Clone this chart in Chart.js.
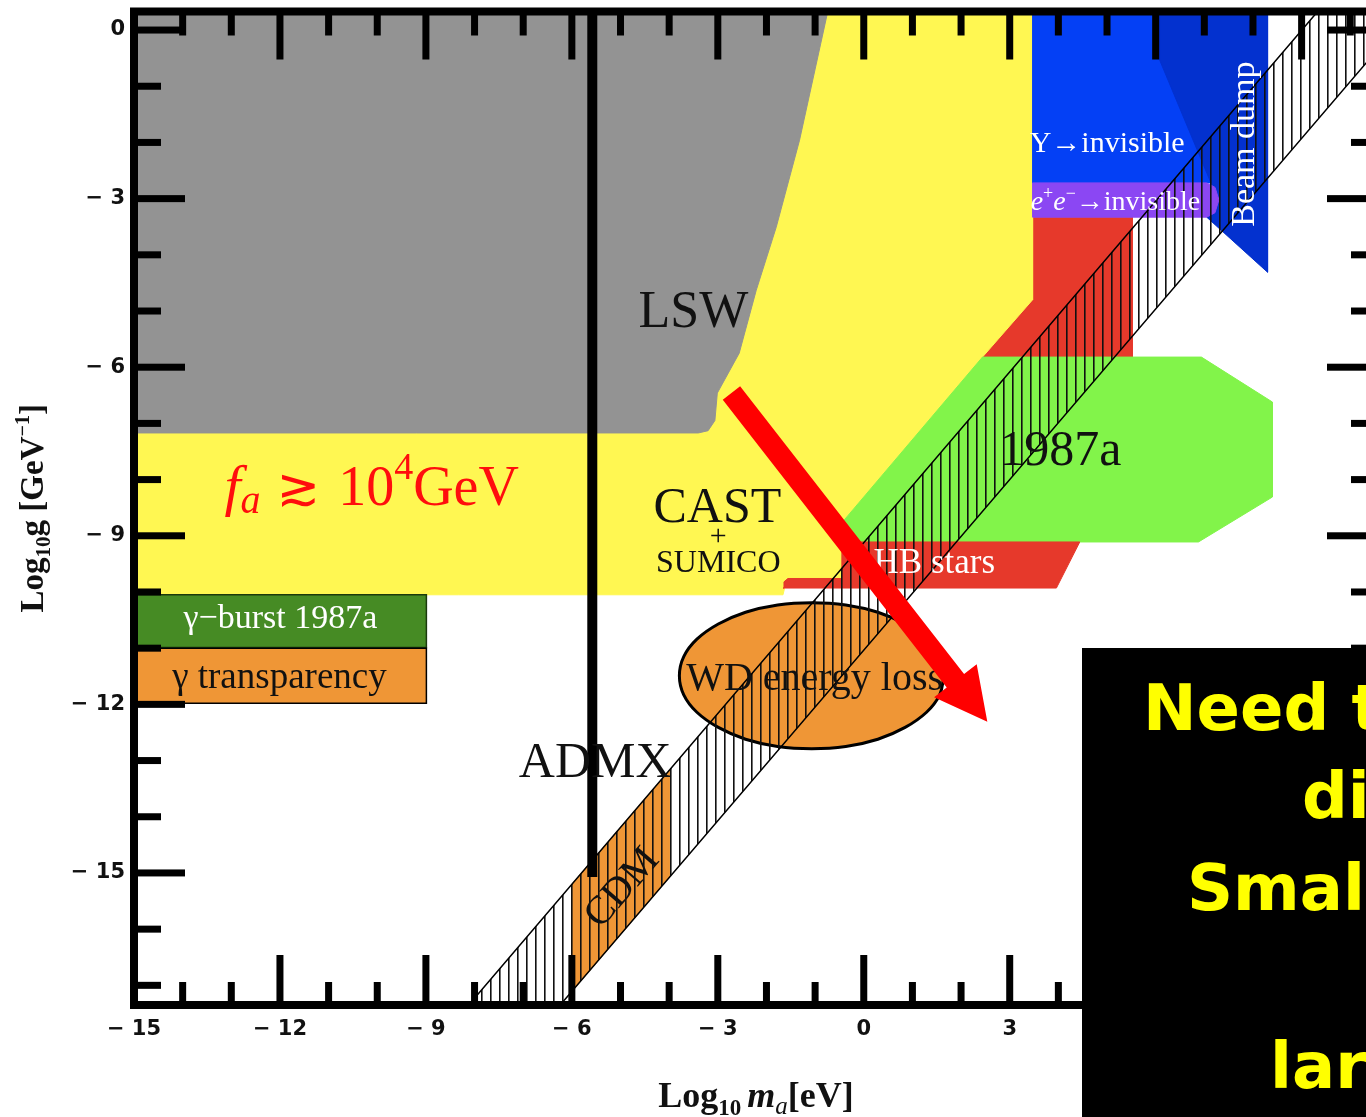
<!DOCTYPE html>
<html><head><meta charset="utf-8">
<script src="https://cdn.jsdelivr.net/npm/chart.js@4.4.1/dist/chart.umd.min.js"></script>
<style>
html,body{margin:0;padding:0;overflow:hidden;background:#fff;width:1366px;height:1117px;}
#wrap{position:absolute;left:0;top:0;width:1420px;height:1117px;}
#box{position:absolute;left:1082px;top:648px;width:400px;height:520px;background:#000;}
.msg{position:absolute;color:#ffff00;font:bold 64px "DejaVu Sans",sans-serif;line-height:64px;white-space:nowrap;}
</style></head><body>
<div id="wrap"><canvas id="c" width="1420" height="1117"></canvas></div>
<div id="box"></div>
<div class="msg" style="left:1143px;top:676px">Need to</div>
<div class="msg" style="left:1302px;top:764px">different</div>
<div class="msg" style="left:1187px;top:856px">Smaller</div>
<div class="msg" style="left:1270px;top:1034px">larger</div>
<script>
// ---------- axes ----------
const xTickValues = [-15, -12, -9, -6, -3, 0, 3, 6, 9];
const yTickValues = [0, -3, -6, -9, -12, -15];
const xLimits = [-15, 10.57];
const yLimits = [-17.35, 0.33];

// ---------- excluded regions: [log10 m_a, log10 g] ----------
const upperRedRegion = [[2.4,-3.33],[5.52,-3.33],[5.52,-5.82],[2.4,-5.82],[2.4,-3.33]];
const castRegion = [[-15,0.33],[3.47,0.33],[3.47,-4.80],[2.44,-5.82],[-0.54,-8.86],[-0.45,-9.11],[-0.45,-9.76],[-1.58,-9.76],[-1.66,-10.05],[-15,-10.05],[-15,0.33]];
const lswRegion = [[-15,0.33],[-0.74,0.33],[-1.32,-1.96],[-1.80,-3.51],[-2.21,-4.63],[-2.56,-5.75],[-3.01,-6.46],[-3.06,-6.95],[-3.20,-7.13],[-3.40,-7.17],[-15,-7.17],[-15,0.33]];
const upsilonRegion = [[3.47,0.33],[6.1,0.33],[6.1,-0.53],[7.17,-2.72],[3.47,-2.72],[3.47,0.33]];
const beamDumpRegion = [[6.08,0.33],[8.30,0.33],[8.30,-4.31],[7.05,-3.33],[7.17,-2.79],[6.08,-0.53],[6.08,0.33]];
const eeRegion = [[3.47,-2.72],[7.05,-2.72],[7.22,-2.80],[7.30,-3.02],[7.22,-3.25],[7.05,-3.33],[3.47,-3.33],[3.47,-2.72]];
const sn1987aRegion = [[-0.54,-9.11],[-0.54,-8.86],[2.44,-5.82],[6.94,-5.82],[8.40,-6.62],[8.40,-8.31],[6.88,-9.11],[-0.54,-9.11]];
const hbRegion = [[-1.66,-9.93],[-1.64,-9.82],[-1.56,-9.76],[-0.45,-9.76],[-0.45,-9.11],[4.44,-9.11],[3.96,-9.93],[-1.66,-9.93]];
const burstRegion = [[-15,-10.05],[-8.99,-10.05],[-8.99,-10.99],[-15,-10.99],[-15,-10.05]];
const transparencyRegion = [[-15,-11.0],[-8.99,-11.0],[-8.99,-11.98],[-15,-11.98],[-15,-11.0]];
const wdRegion = [[1.65,-11.49],[1.56,-11.15],[1.29,-10.84],[0.85,-10.57],[0.29,-10.36],[-0.37,-10.23],[-1.07,-10.19],[-1.77,-10.23],[-2.43,-10.36],[-2.99,-10.57],[-3.43,-10.84],[-3.70,-11.15],[-3.79,-11.49],[-3.70,-11.83],[-3.43,-12.14],[-2.99,-12.41],[-2.43,-12.62],[-1.77,-12.75],[-1.07,-12.79],[-0.37,-12.75],[0.29,-12.62],[0.85,-12.41],[1.29,-12.14],[1.56,-11.83],[1.65,-11.49]];
const cdmRegion = [[-6,-17.11],[-6,-15.20],[-4,-13.18],[-4,-15.08],[-6,-17.11]];
const axionBand = [[-8.12,-17.35],[9.33,0.33],[11.23,0.33],[-6.24,-17.35],[-8.12,-17.35]];
const admxLine = [[-5.58,0.33],[-5.58,-15.07]];
const arrowPath = [[-2.72,-6.46],[2.54,-12.31]];

// ---------- hatch pattern ----------
const pc = document.createElement('canvas'); pc.width = 9; pc.height = 9;
const pctx = pc.getContext('2d'); pctx.fillStyle = '#111'; pctx.fillRect(4, 0, 1.6, 9);
const hatch = document.getElementById('c').getContext('2d').createPattern(pc, 'repeat');

const layers = [
  {label:'Red limits', pts: upperRedRegion, bg:'#e6392b'},
  {label:'CAST + SUMICO', pts: castRegion, bg:'#fff752'},
  {label:'LSW', pts: lswRegion, bg:'#939393'},
  {label:'Upsilon invisible', pts: upsilonRegion, bg:'#0440f5'},
  {label:'Beam dump', pts: beamDumpRegion, bg:'#0331cf'},
  {label:'e+e- invisible', pts: eeRegion, bg:'#8b47f3'},
  {label:'SN 1987a', pts: sn1987aRegion, bg:'#82f44a'},
  {label:'HB stars', pts: hbRegion, bg:'#e6392b'},
  {label:'gamma burst 1987a', pts: burstRegion, bg:'#468b24', border:'#1b3a0c', bw:1.5},
  {label:'gamma transparency', pts: transparencyRegion, bg:'#ef9636', border:'#000', bw:1.5},
  {label:'WD energy loss', pts: wdRegion, bg:'#ef9636', border:'#000', bw:3, tension:0.4},
  {label:'CDM', pts: cdmRegion, bg:'#ef9636'},
  {label:'QCD axion band', pts: axionBand, bg: hatch, border:'#000', bw:1.5},
  {label:'ADMX', pts: admxLine, bg:'rgba(0,0,0,0)', border:'#000', bw:10, fill:false}
];

const datasets = layers.map((l, i) => ({
  label: l.label,
  data: l.pts.map(([x, y]) => ({x, y})),
  backgroundColor: l.bg,
  borderColor: l.border || l.bg,
  borderWidth: l.bw !== undefined ? l.bw : 1,
  fill: l.fill === false ? false : 'shape',
  tension: l.tension || 0,
  pointRadius: 0,
  borderCapStyle: 'butt',
  borderJoinStyle: 'miter',
  order: layers.length - i
}));

// ---------- text annotations (data coords) ----------
const SERIF = '"Liberation Serif","DejaVu Serif",serif';
const annotations = [
  {x:-3.50, y:-5.28, text:'LSW', font:'52px '+SERIF, color:'#111', align:'center'},
  {x:-3.01, y:-8.75, text:'CAST', font:'50px '+SERIF, color:'#111', align:'center'},
  {x:-2.99, y:-9.16, text:'+', font:'30px '+SERIF, color:'#111', align:'center'},
  {x:-2.99, y:-9.64, text:'SUMICO', font:'32px '+SERIF, color:'#111', align:'center'},
  {x:-5.52, y:-13.29, text:'ADMX', font:'50px '+SERIF, color:'#111', align:'center'},
  {x:-4.96, y:-15.27, text:'CDM', font:'40px '+SERIF, color:'#111', align:'center', baseline:'middle', rot:-49},
  {x:-1.01, y:-11.74, text:'WD energy loss', font:'40px '+SERIF, color:'#111', align:'center'},
  {x:1.45, y:-9.66, text:'HB stars', font:'35px '+SERIF, color:'#fff', align:'center'},
  {x:4.04, y:-7.74, text:'1987a', font:'50px '+SERIF, color:'#111', align:'center'},
  {x:3.41, y:-2.17, text:'Υ→invisible', font:'30px '+SERIF, color:'#fff', align:'left'},
  {x:8.03, y:-2.03, text:'Beam dump', font:'34px '+SERIF, color:'#fff', align:'center', rot:-90},
  {x:-11.99, y:-10.64, text:'γ−burst 1987a', font:'34px '+SERIF, color:'#fff', align:'center'},
  {x:-12.01, y:-11.71, text:'γ transparency', font:'37px '+SERIF, color:'#111', align:'center'}
];
const faLabel = {x:-13.14, y:-8.45, color:'#ff0d0d'};
const eeLabel = {x:3.43, y:-3.20, color:'#fff'};

function drawRuns(ctx, runs, x, y, align) {
  let w = 0;
  runs.forEach(r => { ctx.font = r.font; r.w = ctx.measureText(r.t).width; w += r.w + (r.gap || 0); });
  let cx = align === 'center' ? x - w / 2 : x;
  ctx.textAlign = 'left'; ctx.textBaseline = 'alphabetic';
  runs.forEach(r => { ctx.font = r.font; ctx.fillText(r.t, cx, y + (r.dy || 0)); cx += r.w + (r.gap || 0); });
}

const annotatePlugin = {
  id: 'annotate',
  afterDatasetsDraw(chart) {
    const ctx = chart.ctx, xs = chart.scales.x, ys = chart.scales.y;
    ctx.save();
    annotations.forEach(a => {
      ctx.save();
      ctx.translate(xs.getPixelForValue(a.x), ys.getPixelForValue(a.y));
      if (a.rot) ctx.rotate(a.rot * Math.PI / 180);
      ctx.font = a.font; ctx.fillStyle = a.color;
      ctx.textAlign = a.align; ctx.textBaseline = a.baseline || 'alphabetic';
      ctx.fillText(a.text, 0, 0);
      ctx.restore();
    });
    // f_a >~ 10^4 GeV
    ctx.fillStyle = faLabel.color;
    drawRuns(ctx, [
      {t:'f', font:'italic 58px '+SERIF},
      {t:'a', font:'italic 40px '+SERIF, dy:8, gap:16},
      {t:'≳', font:'52px "DejaVu Sans",'+SERIF, gap:18},
      {t:'10', font:'56px '+SERIF},
      {t:'4', font:'38px '+SERIF, dy:-26},
      {t:'GeV', font:'56px '+SERIF}
    ], xs.getPixelForValue(faLabel.x), ys.getPixelForValue(faLabel.y), 'left');
    // e+e- -> invisible
    ctx.fillStyle = eeLabel.color;
    drawRuns(ctx, [
      {t:'e', font:'italic 28px '+SERIF},
      {t:'+', font:'18px '+SERIF, dy:-11},
      {t:'e', font:'italic 28px '+SERIF},
      {t:'−', font:'18px '+SERIF, dy:-11},
      {t:'→invisible', font:'28px '+SERIF}
    ], xs.getPixelForValue(eeLabel.x), ys.getPixelForValue(eeLabel.y), 'left');
    // red arrow
    const x0 = xs.getPixelForValue(arrowPath[0][0]), y0 = ys.getPixelForValue(arrowPath[0][1]);
    const x1 = xs.getPixelForValue(arrowPath[1][0]), y1 = ys.getPixelForValue(arrowPath[1][1]);
    const L = Math.hypot(x1 - x0, y1 - y0), ux = (x1 - x0) / L, uy = (y1 - y0) / L, nx = -uy, ny = ux;
    const sw = 11, hl = 52, hw = 27;
    const bx = x1 - ux * hl, by = y1 - uy * hl;
    ctx.fillStyle = '#ff0000';
    ctx.beginPath();
    ctx.moveTo(x0 + nx * sw, y0 + ny * sw);
    ctx.lineTo(bx + nx * sw, by + ny * sw);
    ctx.lineTo(bx + nx * hw, by + ny * hw);
    ctx.lineTo(x1, y1);
    ctx.lineTo(bx - nx * hw, by - ny * hw);
    ctx.lineTo(bx - nx * sw, by - ny * sw);
    ctx.lineTo(x0 - nx * sw, y0 - ny * sw);
    ctx.closePath(); ctx.fill();
    ctx.restore();
  },
  afterDraw(chart) {
    const ctx = chart.ctx, a = chart.chartArea, xs = chart.scales.x, ys = chart.scales.y;
    ctx.save();
    ctx.fillStyle = '#000';
    const tw = 7;
    for (let v = Math.ceil(xLimits[0]); v <= Math.floor(xLimits[1]); v++) {
      const p = xs.getPixelForValue(v), major = v % 3 === 0;
      ctx.fillRect(p - tw / 2, a.bottom - (major ? 50 : 23), tw, major ? 50 : 23);
      ctx.fillRect(p - tw / 2, a.top, tw, major ? 48 : 24);
    }
    for (let v = Math.ceil(yLimits[0]); v <= Math.floor(yLimits[1]); v++) {
      const p = ys.getPixelForValue(v), major = v % 3 === 0;
      ctx.fillRect(a.left, p - tw / 2, major ? 51 : 27, tw);
      ctx.fillRect(a.right - (major ? 51 : 27), p - tw / 2, major ? 51 : 27, tw);
    }
    ctx.strokeStyle = '#000'; ctx.lineWidth = 8;
    ctx.strokeRect(a.left, a.top, a.right - a.left, a.bottom - a.top);
    // axis titles
    const B = 'bold ';
    ctx.fillStyle = '#111';
    drawRuns(ctx, [
      {t:'Log', font:B+'36px '+SERIF},
      {t:'10', font:B+'23px '+SERIF, dy:8, gap:6},
      {t:'m', font:'bold italic 36px '+SERIF},
      {t:'a', font:'italic 25px '+SERIF, dy:7},
      {t:'[eV]', font:B+'36px '+SERIF}
    ], (a.left + a.right) / 2, a.bottom + 102, 'center');
    ctx.save();
    ctx.translate(43, (a.top + a.bottom) / 2);
    ctx.rotate(-Math.PI / 2);
    drawRuns(ctx, [
      {t:'Log', font:B+'33px '+SERIF},
      {t:'10', font:B+'21px '+SERIF, dy:7},
      {t:'g [GeV', font:B+'33px '+SERIF},
      {t:'−1', font:B+'20px '+SERIF, dy:-14},
      {t:']', font:B+'33px '+SERIF}
    ], 0, 0, 'center');
    ctx.restore();
    ctx.restore();
  }
};

const tickFmt = v => v < 0 ? '− ' + Math.abs(v) : String(v);
const noPad = s => { s.paddingTop = 0; s.paddingBottom = 0; s.paddingLeft = 0; s.paddingRight = 0; };

new Chart(document.getElementById('c'), {
  type: 'line',
  data: { datasets },
  options: {
    responsive: false, animation: false, events: [],
    layout: { padding: { top: 11.5, right: 42, left: 0, bottom: 0 } },
    plugins: { legend: { display: false }, tooltip: { enabled: false } },
    scales: {
      x: {
        type: 'linear', min: xLimits[0], max: xLimits[1],
        afterBuildTicks: s => { s.ticks = xTickValues.map(v => ({value: v})); },
        afterFit: s => { s.height = 112; noPad(s); },
        grid: { display: false, drawTicks: false }, border: { display: false },
        ticks: { callback: tickFmt, padding: 12, color: '#111', maxRotation: 0, autoSkip: false,
                 font: { family: '"DejaVu Sans"', weight: 'bold', size: 21 } }
      },
      y: {
        type: 'linear', min: yLimits[0], max: yLimits[1],
        afterBuildTicks: s => { s.ticks = yTickValues.map(v => ({value: v})); },
        afterFit: s => { s.width = 134; noPad(s); },
        grid: { display: false, drawTicks: false }, border: { display: false },
        ticks: { callback: tickFmt, padding: 9, color: '#111', autoSkip: false,
                 font: { family: '"DejaVu Sans"', weight: 'bold', size: 21 } }
      }
    }
  },
  plugins: [annotatePlugin]
});
</script>
</body></html>
